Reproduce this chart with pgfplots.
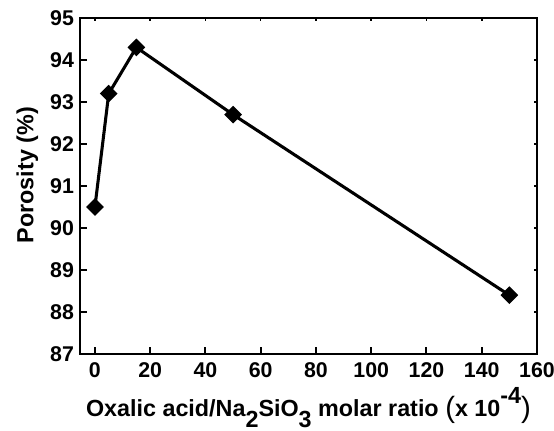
\documentclass[border=0pt]{standalone}
\usepackage{fontspec}
\setmainfont{Liberation Sans}
\usepackage{pgfplots}
\pgfplotsset{compat=1.18}
\newcommand{\lbl}{\fontsize{17.5}{19}\selectfont\bfseries}
\newcommand{\bigp}[1]{{\mdseries\fontsize{22}{22}\selectfont\raisebox{-0.5pt}{#1}}}
\begin{document}
\begin{tikzpicture}
\useasboundingbox (-60pt,-57pt) rectangle (355.5pt,265.5pt);
\begin{axis}[
  at={(0,0)}, anchor=south west,
  scale only axis,
  width=342.75pt, height=252pt,
  xmin=-5.4, xmax=160,
  ymin=87, ymax=95,
  xtick={0,20,...,160},
  ytick={87,88,...,95},
  xtick pos=bottom, ytick pos=left,
  tick align=inside,
  major tick length=5pt,
  axis line style={line width=2pt},
  every tick/.style={black, line width=1.5pt},
  /pgf/number format/assume math mode=true,
  tick label style={font=\fontsize{16}{17}\selectfont\bfseries},
  xticklabel style={yshift=-3pt},
  yticklabel style={xshift=-1pt},
  xlabel={Oxalic acid/Na\raisebox{-0.45em}{2}SiO\raisebox{-0.45em}{3} molar ratio \bigp{(}x 10\raisebox{0.55em}{-4}\bigp{)}},
  ylabel={Porosity (\%)},
  xlabel style={font=\lbl, at={(axis description cs:0.5,-0.1865)}, anchor=base},
  ylabel style={font=\lbl, at={(axis description cs:-0.102,0.532)}, anchor=base, rotate=0},
  clip=false,
]
\addplot[black, line width=2.3pt, mark=square*, mark size=4.2pt, mark options={solid, fill=black, rotate=45, line width=1pt}]
coordinates {(0,90.5) (5,93.2) (15,94.3) (50,92.7) (150,88.4)};
\end{axis}
\begin{axis}[
  at={(0,0)}, anchor=south west,
  scale only axis,
  width=342.75pt, height=252pt,
  xmin=-5.4, xmax=160,
  ymin=87, ymax=95,
  xtick={0,20,...,160},
  ytick={87,88,...,95},
  xtick pos=top, ytick pos=right,
  xticklabels={}, yticklabels={},
  tick align=inside,
  major tick length=2.5pt,
  axis line style={line width=2pt},
  every tick/.style={black, line width=1.2pt},
]
\end{axis}
\end{tikzpicture}
\end{document}
